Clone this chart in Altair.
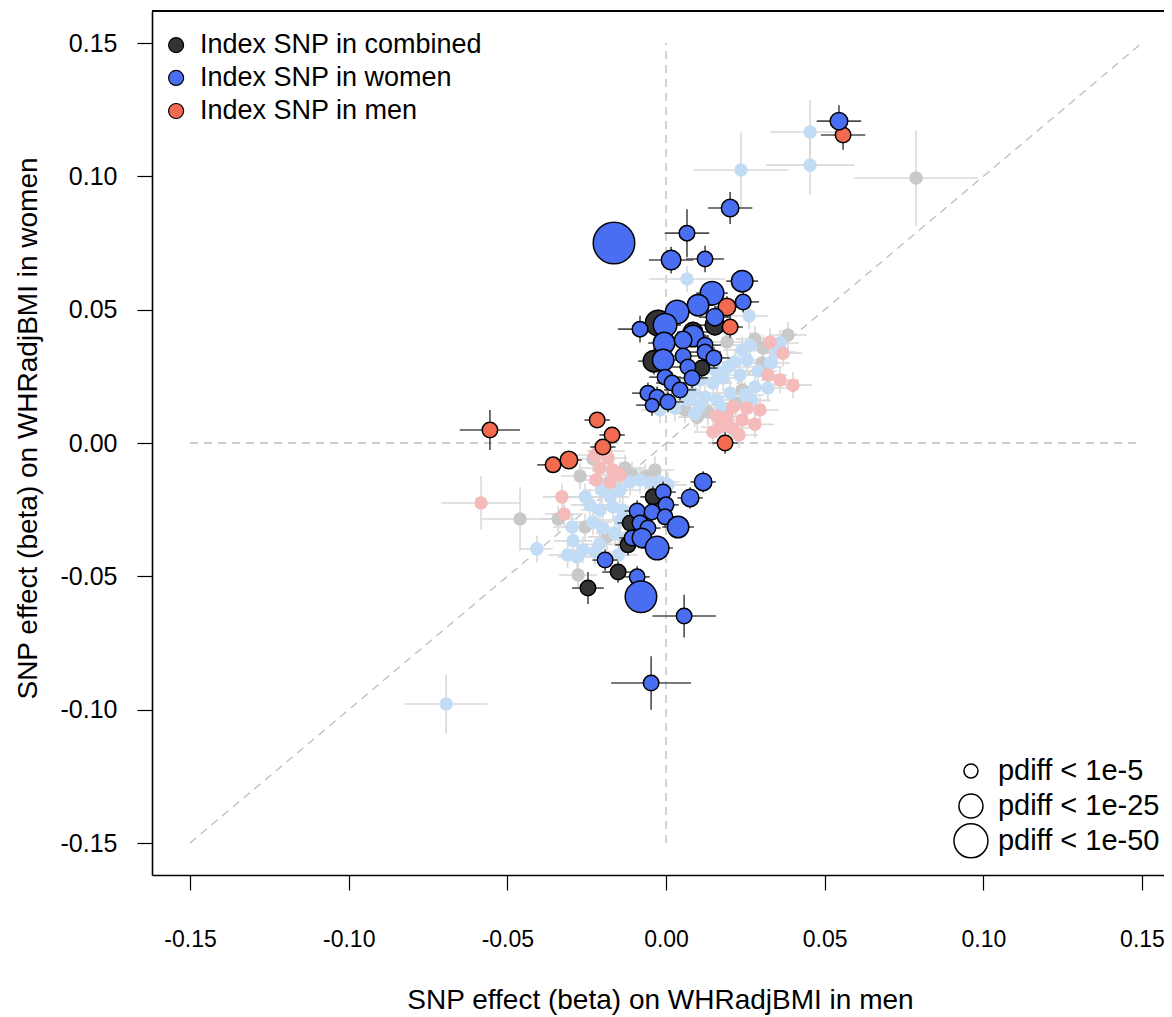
import altair as alt
import pandas as pd

# ---------------- data (beta in men, beta in women, radius, half-CI men, half-CI women)
combined_index = [
    (-0.0246, -0.0544, 8, 0.005, 0.006),
    (-0.0151, -0.0484, 8, 0.005, 0.004),
    (-0.0025, 0.0450, 13, 0.006, 0.005),
    (-0.0038, 0.0307, 11, 0.005, 0.005),
    (0.0154, 0.0442, 10, 0.005, 0.004),
    (0.0113, 0.0281, 8, 0.005, 0.004),
    (0.0085, 0.0416, 10, 0.005, 0.004),
    (-0.0041, -0.0202, 8, 0.004, 0.004),
    (-0.0113, -0.0300, 8, 0.004, 0.004),
    (-0.0120, -0.0382, 8, 0.004, 0.004),
]
men_index = [
    (-0.0555, 0.0049, 8, 0.0095, 0.0075),
    (-0.0217, 0.0086, 8, 0.004, 0.003),
    (-0.0170, 0.0030, 8, 0.004, 0.003),
    (-0.0199, -0.0015, 8, 0.004, 0.003),
    (-0.0306, -0.0064, 9, 0.004, 0.003),
    (-0.0356, -0.0082, 8, 0.005, 0.003),
    (0.0186, 0.0000, 8, 0.004, 0.004),
    (0.0192, 0.0510, 9, 0.004, 0.004),
    (0.0202, 0.0435, 8, 0.004, 0.004),
    (0.0558, 0.1155, 8, 0.007, 0.0055),
]
women_index = [
    (0.0545, 0.1207, 9, 0.007, 0.006),
    (0.0202, 0.0881, 9, 0.007, 0.006),
    (0.0066, 0.0787, 8, 0.007, 0.009),
    (-0.0164, 0.0750, 21, 0.002, 0.002),
    (0.0016, 0.0686, 10, 0.007, 0.005),
    (0.0123, 0.0690, 8, 0.006, 0.005),
    (0.0240, 0.0607, 11, 0.005, 0.004),
    (0.0243, 0.0529, 8, 0.005, 0.004),
    (0.0145, 0.0562, 12, 0.005, 0.004),
    (0.0101, 0.0517, 11, 0.005, 0.004),
    (0.0154, 0.0472, 9, 0.005, 0.004),
    (0.0035, 0.0491, 12, 0.005, 0.004),
    (-0.0003, 0.0442, 12, 0.005, 0.004),
    (-0.0082, 0.0427, 8, 0.007, 0.005),
    (0.0085, 0.0401, 11, 0.005, 0.004),
    (-0.0006, 0.0375, 11, 0.005, 0.004),
    (0.0054, 0.0386, 9, 0.005, 0.004),
    (0.0123, 0.0367, 8, 0.005, 0.004),
    (-0.0009, 0.0311, 11, 0.005, 0.004),
    (0.0054, 0.0326, 8, 0.005, 0.004),
    (0.0123, 0.0341, 8, 0.005, 0.004),
    (0.0151, 0.0319, 8, 0.005, 0.004),
    (0.0069, 0.0285, 8, 0.005, 0.004),
    (-0.0003, 0.0247, 8, 0.005, 0.004),
    (0.0082, 0.0244, 8, 0.005, 0.004),
    (0.0019, 0.0225, 8, 0.005, 0.004),
    (0.0044, 0.0199, 8, 0.005, 0.004),
    (-0.0057, 0.0187, 8, 0.005, 0.004),
    (-0.0028, 0.0172, 8, 0.005, 0.004),
    (0.0006, 0.0154, 8, 0.005, 0.004),
    (-0.0044, 0.0142, 7, 0.005, 0.004),
    (0.0117, -0.0146, 9, 0.004, 0.004),
    (0.0076, -0.0206, 9, 0.004, 0.004),
    (-0.0009, -0.0184, 8, 0.004, 0.004),
    (0.0000, -0.0232, 8, 0.004, 0.004),
    (-0.0091, -0.0255, 8, 0.004, 0.004),
    (-0.0044, -0.0259, 8, 0.004, 0.004),
    (-0.0003, -0.0277, 8, 0.004, 0.004),
    (-0.0082, -0.0300, 8, 0.004, 0.004),
    (0.0038, -0.0315, 11, 0.005, 0.004),
    (-0.0057, -0.0319, 8, 0.004, 0.004),
    (-0.0107, -0.0356, 8, 0.004, 0.004),
    (-0.0076, -0.0356, 10, 0.004, 0.004),
    (-0.0028, -0.0394, 12, 0.005, 0.004),
    (-0.0192, -0.0439, 8, 0.004, 0.004),
    (-0.0091, -0.0502, 8, 0.004, 0.004),
    (-0.0079, -0.0577, 16, 0.004, 0.004),
    (0.0057, -0.0649, 8, 0.010, 0.008),
    (-0.0047, -0.0900, 8, 0.0126, 0.010),
]

# non-index SNPs (x, y, half-CI men, half-CI women)
combined_other = [
    (0.0788, 0.0994, 0.0195, 0.018),
    (-0.0460, -0.0285, 0.0125, 0.012),
    (-0.0340, -0.0285, 0.006, 0.005),
    (-0.0271, -0.0124, 0.006, 0.005),
    (-0.0255, -0.0315, 0.006, 0.005),
    (-0.0277, -0.0495, 0.006, 0.005),
    (-0.0129, -0.0094, 0.006, 0.005),
    (-0.0186, -0.0352, 0.006, 0.005),
    (-0.0107, -0.0120, 0.006, 0.005),
    (-0.0066, -0.0127, 0.006, 0.005),
    (-0.0035, -0.0101, 0.006, 0.005),
    (0.0384, 0.0405, 0.006, 0.005),
    (0.0306, 0.0356, 0.006, 0.005),
    (0.0192, 0.0379, 0.006, 0.005),
    (0.0303, 0.0300, 0.006, 0.005),
    (0.0306, 0.0285, 0.006, 0.005),
    (0.0240, 0.0199, 0.006, 0.005),
    (0.0132, 0.0116, 0.006, 0.005),
    (0.0098, 0.0097, 0.006, 0.005),
    (0.0060, 0.0124, 0.006, 0.005),
    (0.0280, 0.0390, 0.006, 0.005),
    (0.0220, 0.0150, 0.006, 0.005),
    (-0.0230, -0.0060, 0.006, 0.005),
]
women_other = [
    (0.0454, 0.1166, 0.0126, 0.012),
    (0.0454, 0.1042, 0.014, 0.011),
    (0.0236, 0.1024, 0.015, 0.014),
    (0.0066, 0.0615, 0.012, 0.005),
    (0.0262, 0.0476, 0.006, 0.005),
    (-0.0407, -0.0397, 0.005, 0.005),
    (-0.0693, -0.0979, 0.013, 0.011),
    (-0.0255, -0.0202, 0.006, 0.005),
    (-0.0296, -0.0315, 0.006, 0.005),
    (-0.0293, -0.0367, 0.006, 0.005),
    (-0.0280, -0.0427, 0.006, 0.005),
    (-0.0262, -0.0401, 0.006, 0.005),
    (-0.0224, -0.0409, 0.006, 0.005),
    (-0.0199, -0.0319, 0.006, 0.005),
    (-0.0230, -0.0296, 0.006, 0.005),
    (-0.0208, -0.0251, 0.006, 0.005),
    (-0.0167, -0.0240, 0.006, 0.005),
    (-0.0136, -0.0251, 0.006, 0.005),
    (-0.0145, -0.0289, 0.006, 0.005),
    (-0.0240, -0.0232, 0.006, 0.005),
    (-0.0202, -0.0176, 0.006, 0.005),
    (-0.0176, -0.0202, 0.006, 0.005),
    (-0.0186, -0.0150, 0.006, 0.005),
    (-0.0145, -0.0176, 0.006, 0.005),
    (-0.0113, -0.0146, 0.006, 0.005),
    (-0.0082, -0.0139, 0.006, 0.005),
    (-0.0050, -0.0150, 0.006, 0.005),
    (-0.0019, -0.0146, 0.006, 0.005),
    (0.0006, -0.0157, 0.006, 0.005),
    (-0.0161, -0.0337, 0.006, 0.005),
    (-0.0129, -0.0364, 0.006, 0.005),
    (-0.0150, -0.0420, 0.006, 0.005),
    (-0.0210, -0.0380, 0.006, 0.005),
    (-0.0310, -0.0420, 0.006, 0.005),
    (0.0359, 0.0375, 0.006, 0.005),
    (0.0350, 0.0341, 0.006, 0.005),
    (0.0240, 0.0349, 0.006, 0.005),
    (0.0265, 0.0367, 0.006, 0.005),
    (0.0217, 0.0304, 0.006, 0.005),
    (0.0255, 0.0311, 0.006, 0.005),
    (0.0195, 0.0285, 0.006, 0.005),
    (0.0233, 0.0255, 0.006, 0.005),
    (0.0321, 0.0206, 0.006, 0.005),
    (0.0280, 0.0210, 0.006, 0.005),
    (0.0180, 0.0244, 0.006, 0.005),
    (0.0148, 0.0225, 0.006, 0.005),
    (0.0202, 0.0187, 0.006, 0.005),
    (0.0123, 0.0172, 0.006, 0.005),
    (0.0161, 0.0161, 0.006, 0.005),
    (0.0249, 0.0180, 0.006, 0.005),
    (0.0085, 0.0187, 0.006, 0.005),
    (0.0066, 0.0161, 0.006, 0.005),
    (0.0107, 0.0142, 0.006, 0.005),
    (0.0028, 0.0131, 0.006, 0.005),
    (-0.0019, 0.0124, 0.006, 0.005),
    (0.0107, 0.0236, 0.006, 0.005),
    (0.0154, 0.0274, 0.006, 0.005),
    (0.0290, 0.0270, 0.006, 0.005),
    (0.0330, 0.0300, 0.006, 0.005),
    (0.0270, 0.0160, 0.006, 0.005),
    (0.0180, 0.0130, 0.006, 0.005),
    (0.0090, 0.0110, 0.006, 0.005),
]
men_other = [
    (-0.0583, -0.0225, 0.0125, 0.010),
    (-0.0328, -0.0202, 0.006, 0.005),
    (-0.0321, -0.0266, 0.006, 0.005),
    (-0.0224, -0.0045, 0.006, 0.005),
    (-0.0183, -0.0056, 0.006, 0.005),
    (-0.0208, -0.0094, 0.006, 0.005),
    (-0.0167, -0.0101, 0.006, 0.005),
    (-0.0221, -0.0139, 0.006, 0.005),
    (-0.0176, -0.0146, 0.006, 0.005),
    (-0.0145, -0.0120, 0.006, 0.005),
    (-0.0190, -0.0030, 0.006, 0.005),
    (0.0328, 0.0379, 0.006, 0.005),
    (0.0369, 0.0337, 0.006, 0.005),
    (0.0321, 0.0255, 0.006, 0.005),
    (0.0359, 0.0236, 0.006, 0.005),
    (0.0400, 0.0217, 0.006, 0.005),
    (0.0211, 0.0135, 0.006, 0.005),
    (0.0255, 0.0131, 0.006, 0.005),
    (0.0296, 0.0124, 0.006, 0.005),
    (0.0192, 0.0097, 0.006, 0.005),
    (0.0240, 0.0086, 0.006, 0.005),
    (0.0170, 0.0060, 0.006, 0.005),
    (0.0208, 0.0056, 0.006, 0.005),
    (0.0148, 0.0041, 0.006, 0.005),
    (0.0280, 0.0070, 0.006, 0.005),
    (0.0160, 0.0100, 0.006, 0.005),
    (0.0230, 0.0030, 0.006, 0.005),
]

TICKS = [-0.15, -0.10, -0.05, 0.0, 0.05, 0.10, 0.15]
LEGEND_LABELS = ["Index SNP in combined", "Index SNP in women", "Index SNP in men"]
SIZE_LABELS = ["pdiff < 1e-5", "pdiff < 1e-25", "pdiff < 1e-50"]
SIZE_RADII = [7, 12, 17]

C_BLACK, C_BLUE, C_RED = "#333333", "#4A6EF2", "#F26A50"
C_GRAY, C_LBLUE, C_PINK = "#C9C9C9", "#C3DCF5", "#F5BABA"

FONT = "Liberation Sans"
W, H = 1012, 864
XDOM = [-0.162, -0.162 + W / 3173.0]
YDOM = [-0.162, 0.162]


def frame(rows, fill, sig):
    recs = []
    for r in rows:
        if sig:
            x, y, rad, sx, sy = r
        else:
            x, y, sx, sy = r
            rad = 7
        recs.append(dict(x=x, y=y, size=(2 * rad - 0.5) ** 2, fill=fill,
                         xlo=x - sx, xhi=x + sx, ylo=y - sy, yhi=y + sy))
    return recs


faded = pd.DataFrame(frame(combined_other, C_GRAY, False)
                     + frame(women_other, C_LBLUE, False)
                     + frame(men_other, C_PINK, False))
sig = pd.DataFrame(frame(combined_index, C_BLACK, True)
                   + frame(men_index, C_RED, True)
                   + frame(women_index, C_BLUE, True))
sig["ord"] = range(len(sig))

xs = alt.Scale(domain=XDOM, nice=False, zero=False)
ys = alt.Scale(domain=YDOM, nice=False, zero=False)

lab_expr = "replace(format(datum.value, '.2f'), '\u2212', '-')"
x_axis = alt.Axis(values=TICKS, labelExpr=lab_expr, grid=False, tickSize=15,
                  tickColor="black", tickWidth=1.2, domainColor="black", domainWidth=1.6,
                  labelFontSize=23, labelPadding=38, labelColor="black", labelFont=FONT,
                  labelFlush=False, labelOverlap=False,
                  title="SNP effect (beta) on WHRadjBMI in men", titleFont=FONT,
                  titleFontSize=28, titleFontWeight="normal", titleColor="black",
                  titleX=508, titleY=125, titleBaseline="middle", titleAlign="center")
y_axis = alt.Axis(values=TICKS, labelExpr=lab_expr, grid=False, tickSize=15,
                  tickColor="black", tickWidth=1.2, domainColor="black", domainWidth=1.6,
                  labelFontSize=25, labelPadding=20, labelColor="black", labelFont=FONT,
                  labelFlush=False, labelOverlap=False,
                  title="SNP effect (beta) on WHRadjBMI in women", titleFont=FONT,
                  titleFontSize=28, titleFontWeight="normal", titleColor="black",
                  titleAngle=270, titleX=-124, titleY=417, titleBaseline="middle",
                  titleAlign="center")

ref = pd.DataFrame({"x": [0.0, -0.15, -0.15], "y": [-0.15, 0.0, -0.15],
                    "x2": [0.0, 0.15, 0.15], "y2": [0.15, 0.0, 0.15]})
ref_layer = alt.Chart(ref).mark_rule(color="#BDBDBD", strokeWidth=1.3, strokeDash=[8, 6]).encode(
    x=alt.X("x:Q", scale=xs, axis=x_axis),
    y=alt.Y("y:Q", scale=ys, axis=y_axis),
    x2="x2:Q", y2="y2:Q")

top_border = alt.Chart(ref).mark_rule(color="black", strokeWidth=1.6).encode(
    x=alt.value(0), x2=alt.value(W), y=alt.value(0))


def bars(df, color):
    h = alt.Chart(df).mark_rule(color=color, strokeWidth=1.6).encode(
        x=alt.X("xlo:Q", scale=xs), x2="xhi:Q",
        y=alt.Y("y:Q", scale=ys))
    v = alt.Chart(df).mark_rule(color=color, strokeWidth=1.6).encode(
        x=alt.X("x:Q", scale=xs),
        y=alt.Y("ylo:Q", scale=ys), y2="yhi:Q")
    return h + v


faded_pts = alt.Chart(faded).mark_circle(opacity=1).encode(
    x=alt.X("x:Q", scale=xs), y=alt.Y("y:Q", scale=ys),
    size=alt.Size("size:Q", scale=None), color=alt.Color("fill:N", scale=None))

sig_pts = alt.Chart(sig).mark_circle(opacity=1, stroke="black", strokeWidth=1.5).encode(
    x=alt.X("x:Q", scale=xs), y=alt.Y("y:Q", scale=ys),
    size=alt.Size("size:Q", scale=None), color=alt.Color("fill:N", scale=None),
    order=alt.Order("ord:Q"))

# legends (placed in data coordinates)
leg = pd.DataFrame({"x": [-0.1544] * 3, "tx": [-0.1469] * 3,
                    "y": [0.1492, 0.1369, 0.1245], "label": LEGEND_LABELS,
                    "fill": [C_BLACK, C_BLUE, C_RED]})
leg_pts = alt.Chart(leg).mark_circle(opacity=1, stroke="black", strokeWidth=1.2, size=225).encode(
    x=alt.X("x:Q", scale=xs), y=alt.Y("y:Q", scale=ys),
    color=alt.Color("fill:N", scale=None))
leg_txt = alt.Chart(leg).mark_text(align="left", baseline="middle", font=FONT, fontSize=27,
                                   color="black").encode(
    x=alt.X("tx:Q", scale=xs), y=alt.Y("y:Q", scale=ys), text="label:N")

sleg = pd.DataFrame({"x": [0.0961] * 3, "tx": [0.1046] * 3,
                     "y": [-0.1230, -0.1361, -0.1492], "label": SIZE_LABELS,
                     "size": [(2 * r) ** 2 for r in SIZE_RADII]})
sleg_pts = alt.Chart(sleg).mark_point(shape="circle", filled=False, stroke="black",
                                      strokeWidth=1.5, opacity=1).encode(
    x=alt.X("x:Q", scale=xs), y=alt.Y("y:Q", scale=ys),
    size=alt.Size("size:Q", scale=None))
sleg_txt = alt.Chart(sleg).mark_text(align="left", baseline="middle", font=FONT, fontSize=29,
                                     color="black").encode(
    x=alt.X("tx:Q", scale=xs), y=alt.Y("y:Q", scale=ys), text="label:N")

chart = alt.layer(
    ref_layer, top_border,
    bars(faded, "#D9D9D9"), faded_pts,
    bars(sig, "#4D4D4D"), sig_pts,
    leg_pts, leg_txt, sleg_pts, sleg_txt,
).properties(
    width=W, height=H,
    autosize=alt.AutoSizeParams(type="none"),
    padding={"left": 144, "top": 3, "right": 0, "bottom": 146},
).configure(font=FONT, background="white").configure_view(stroke=None)

chart.save("out.html", embed_options={"renderer": "svg", "actions": False})
